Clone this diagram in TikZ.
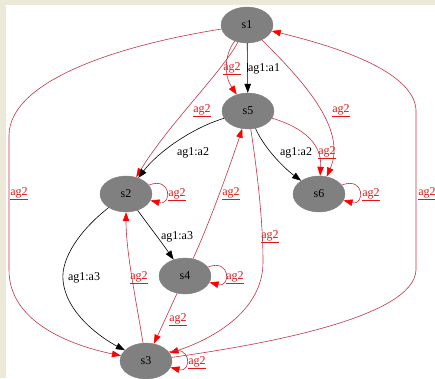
\documentclass[tikz,border=0pt]{standalone}
\usepackage{fontspec}
\setmainfont{Liberation Serif}
\usetikzlibrary{shapes.geometric,arrows.meta}
\definecolor{bgbeige}{RGB}{236,233,216}
\definecolor{nodegray}{RGB}{128,128,128}
\definecolor{edgered}{RGB}{196,52,70}
\definecolor{labred}{RGB}{222,24,24}
\newcommand\aglab{\underline{ag2}}
\begin{document}
\begin{tikzpicture}[x=1pt,y=-1pt,
  st/.style={ellipse,fill=nodegray,draw=nodegray,minimum width=52pt,minimum height=36pt,inner sep=0pt,font=\fontsize{12}{14}\selectfont},
  redge/.style={draw=edgered,line width=0.6pt,-{Triangle[length=9pt,width=6.5pt,color=red,fill=red]}},
  bedge/.style={draw=black,line width=0.6pt,-{Triangle[length=9pt,width=6.5pt]}},
  rlab/.style={text=labred,font=\fontsize{12}{14}\selectfont,inner sep=0pt},
  blab/.style={text=black,font=\fontsize{12}{14}\selectfont,inner sep=0pt}]
\useasboundingbox (0,0) rectangle (435,378);
\fill[bgbeige] (0,0) rectangle (435,378);
\fill[white] (6,5) rectangle (435,378);

% nodes
\node[st] (s1) at (247,25) {s1};
\node[st] (s5) at (248,111) {s5};
\node[st] (s2) at (126,194) {s2};
\node[st] (s6) at (319,194) {s6};
\node[st] (s4) at (185,276) {s4};
\node[st] (s3) at (146,361) {s3};

% s1 -> s5
\draw[bedge] (s1) -- (s5);
\node[blab] (l1) at (264,69) {ag1:a1};
\draw[redge] (s1) .. controls (224,55) and (224,76) .. (s5);
\node[rlab] (l2) at (232,69) {\aglab};

% s1 -> s2
\draw[redge] (s1) .. controls (222,72) and (168,125) .. (s2);
\node[rlab] (l3) at (202,111) {\aglab};

% s1 -> s6
\draw[redge] (s1) .. controls (300,78) and (348,128) .. (s6);
\node[rlab] (l4) at (341,111) {\aglab};

% s1 -> s3 (left)
\coordinate (cl1) at (9,135);
\coordinate (cl2) at (9,270);
\draw[redge] (s1) .. controls (120,45) and (10,80) .. (cl1) -- (cl2) .. controls (9,322) and (70,345) .. (s3);
\node[rlab] (l5) at (19,194) {\aglab};

% s3 -> s1 (right)
\coordinate (cr1) at (416,270);
\coordinate (cr2) at (416,110);
\draw[redge] (s3) .. controls (260,345) and (414,318) .. (cr1) -- (cr2) .. controls (414,70) and (330,45) .. (s1);
\node[rlab] (l6) at (427,194) {\aglab};

% s5 -> s2
\draw[bedge] (s5) .. controls (192,128) and (158,152) .. (s2);
\node[blab] (l7) at (193,153) {ag1:a2};

% s5 -> s6
\draw[bedge] (s5) .. controls (264,148) and (284,168) .. (s6);
\node[blab] (l8) at (296,153) {ag1:a2};
\draw[redge] (s5) .. controls (305,128) and (322,145) .. (s6);
\node[rlab] (l9) at (327,153) {\aglab};

% s5 -> s3
\coordinate (c53) at (263,262);
\draw[redge] (s5) .. controls (257,170) and (263,220) .. (c53) .. controls (263,310) and (215,338) .. (s3);
\node[rlab] (l10) at (270,237) {\aglab};

% s4 -> s5
\draw[redge] (s4) .. controls (210,222) and (232,160) .. (s5);
\node[rlab] (l11) at (231,194) {\aglab};

% self loops
\draw[redge] (s2) .. controls (172,176) and (172,206) .. (s2);
\node[rlab] (l12) at (177,195) {\aglab};
\draw[redge] (s6) .. controls (365,176) and (365,206) .. (s6);
\node[rlab] (l13) at (371,195) {\aglab};
\draw[redge] (s4) .. controls (231,258) and (231,288) .. (s4);
\node[rlab] (l14) at (235,278) {\aglab};
\draw[redge] (s3) .. controls (192,343) and (192,373) .. (s3);
\node[rlab] (l15) at (197,363) {\aglab};

% s2 -> s4
\draw[bedge] (s2) .. controls (146,222) and (160,240) .. (s4);
\node[blab] (l16) at (177,237) {ag1:a3};

% s2 -> s3
\coordinate (c23) at (63,280);
\draw[bedge] (s2) .. controls (80,230) and (61,258) .. (c23) .. controls (66,315) and (105,340) .. (s3);
\node[blab] (l17) at (84,278) {ag1:a3};

% s3 -> s2
\draw[redge] (s3) .. controls (136,300) and (126,252) .. (s2);
\node[rlab] (l18) at (139,278) {\aglab};

% s4 -> s3
\draw[redge] (s4) -- (s3);
\node[rlab] (l19) at (178,320) {\aglab};
\end{tikzpicture}
\end{document}
